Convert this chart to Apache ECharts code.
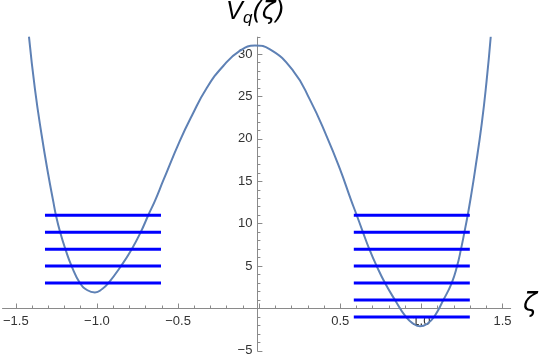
<!DOCTYPE html>
<html>
<head>
<meta charset="UTF-8">
<title>Vq(zeta)</title>
<script src="https://cdn.jsdelivr.net/npm/echarts@6/dist/echarts.min.js"></script>
<style>html,body{margin:0;padding:0;background:#fff;}</style>
</head>
<body>
<div id="chart" style="width:542px;height:359px;"></div>
<script>
// curve V_q(zeta)
var zeta = [-1.398, -1.361, -1.320, -1.280, -1.249, -1.233, -1.207, -1.175, -1.137, -1.086,
    -1.040, -0.994, -0.950, -0.912, -0.835, -0.769, -0.714, -0.668, -0.627, -0.576,
    -0.474, -0.402, -0.310, -0.209, -0.106, -0.015, 0.077, 0.220, 0.322,
    0.424, 0.506, 0.571, 0.608, 0.644, 0.685, 0.730, 0.781, 0.842, 0.909,
    0.955, 0.995, 1.040, 1.081, 1.138, 1.189, 1.222, 1.246, 1.267, 1.287,
    1.305, 1.332, 1.373, 1.403, 1.428];
var vq = [32.05, 25.8, 20.4, 15.8, 12.6, 11.0, 9.0, 7.0, 5.0, 3.0,
    2.15, 1.9, 2.3, 3.0, 5.0, 7.0, 9.0, 11.0, 12.7, 15.1,
    19.8, 22.7, 26.0, 28.6, 30.4, 31.0, 30.55, 28.0, 24.6,
    20.3, 16.4, 12.9, 11.0, 9.1, 7.0, 5.0, 3.0, 1.0, -1.0,
    -1.8, -2.1, -1.8, -1.0, 1.0, 3.0, 5.0, 7.0, 9.0, 11.0,
    13.0, 16.3, 21.8, 26.9, 32.05];

// energy levels in each well
var leftLevels = [3, 5, 7, 9, 11];
var rightLevels = [-1, 1, 3, 5, 7, 9, 11];
var leftSpan = [-1.3, -0.59];
var rightSpan = [0.59, 1.3];

// axis ranges
var xLine = [-1.56, 1.55];
var yLine = [-5, 32];
var xTickRange = [-1.5, 1.5];
var yTickRange = [-5, 30];

// pixel mapping of the plot
var X0 = 257.4, KX = 163.4, Y0 = 308.5, KY = 8.48, W = 542, H = 359;
function box(xr, yr) {
    return {
        left: X0 + KX * xr[0],
        right: W - (X0 + KX * xr[1]),
        top: Y0 - KY * yr[1],
        bottom: H - (Y0 - KY * yr[0])
    };
}

function minus(s) { return s.replace('-', '\u2212'); }

var axisColor = '#8a8a8a';
var labelStyle = {color: '#333', fontFamily: 'Liberation Sans, Arial, sans-serif', fontSize: 13};
var off = {show: false};
function hiddenAxis(grid, r) {
    return {gridIndex: grid, type: 'value', min: r[0], max: r[1], show: false, splitLine: off};
}

var series = [{
    type: 'line',
    xAxisIndex: 0, yAxisIndex: 0,
    data: zeta.map(function (z, i) { return [z, vq[i]]; }),
    smooth: 0.5,
    showSymbol: false,
    clip: true,
    lineStyle: {color: '#5E81B5', width: 2},
    z: 3
}];
function addLevels(levels, span) {
    levels.forEach(function (e) {
        series.push({
            type: 'line', xAxisIndex: 0, yAxisIndex: 0,
            data: [[span[0], e], [span[1], e]],
            showSymbol: false,
            lineStyle: {color: '#0000FF', width: 3},
            z: 4
        });
    });
}
addLevels(leftLevels, leftSpan);
addLevels(rightLevels, rightSpan);

var chart = echarts.init(document.getElementById('chart'), null, {renderer: 'canvas'});
chart.setOption({
    animation: false,
    backgroundColor: '#fff',
    grid: [
        box(xLine, yLine),                          // data + axis lines
        box(xTickRange, [0, 5]),                    // x ticks, bottom edge on y = 0
        box([0, 0.3], yTickRange),                  // y ticks, left edge on x = 0
        box([0, 0.3], [yTickRange[1], yLine[1]])    // y ticks above 30
    ],
    xAxis: [{
        gridIndex: 0, type: 'value', min: xLine[0], max: xLine[1],
        axisLine: {onZero: true, lineStyle: {color: axisColor, width: 1}},
        axisTick: off, axisLabel: off, splitLine: off
    }, {
        gridIndex: 1, type: 'value', position: 'bottom',
        min: xTickRange[0], max: xTickRange[1], interval: 0.5,
        axisLine: {show: false, onZero: false},
        axisTick: {inside: true, length: 5, lineStyle: {color: axisColor}},
        minorTick: {show: true, splitNumber: 5, length: 3, lineStyle: {color: axisColor}},
        axisLabel: Object.assign({
            margin: 6,
            formatter: function (v) { return Math.abs(v) < 1e-9 ? '' : minus(v.toFixed(1)); }
        }, labelStyle),
        splitLine: off
    }, hiddenAxis(2, [0, 0.3]), hiddenAxis(3, [0, 0.3])],
    yAxis: [{
        gridIndex: 0, type: 'value', min: yLine[0], max: yLine[1],
        axisLine: {onZero: true, lineStyle: {color: axisColor, width: 1}},
        axisTick: off, axisLabel: off, splitLine: off
    }, hiddenAxis(1, [0, 5]), {
        gridIndex: 2, type: 'value', position: 'left',
        min: yTickRange[0], max: yTickRange[1], interval: 5,
        axisLine: {show: false, onZero: false},
        axisTick: {inside: true, length: 5, lineStyle: {color: axisColor}},
        minorTick: {show: true, splitNumber: 5, length: 3, lineStyle: {color: axisColor}},
        axisLabel: Object.assign({
            margin: 5,
            formatter: function (v) { return v === 0 ? '' : minus(String(v)); }
        }, labelStyle),
        splitLine: off
    }, {
        gridIndex: 3, type: 'value', position: 'left',
        min: yTickRange[1], max: yLine[1], interval: 1,
        axisLine: {show: false, onZero: false},
        axisTick: {inside: true, length: 3, lineStyle: {color: axisColor}},
        axisLabel: off, splitLine: off
    }],
    graphic: [
        {type: 'text', left: 226, top: 0, style: {text: 'V', font: 'italic 25px Liberation Sans', fill: '#000'}},
        {type: 'text', left: 243, top: 10, style: {text: 'q', font: 'italic 17px Liberation Sans', fill: '#000'}},
        {type: 'text', left: 252, top: 0, style: {text: '(\u03B6)', font: 'oblique 25px DejaVu Sans', fill: '#000'}},
        {type: 'text', left: 523, top: 291, style: {text: '\u03B6', font: 'oblique 26px DejaVu Sans', fill: '#000'}}
    ],
    series: series
});
</script>
</body>
</html>
